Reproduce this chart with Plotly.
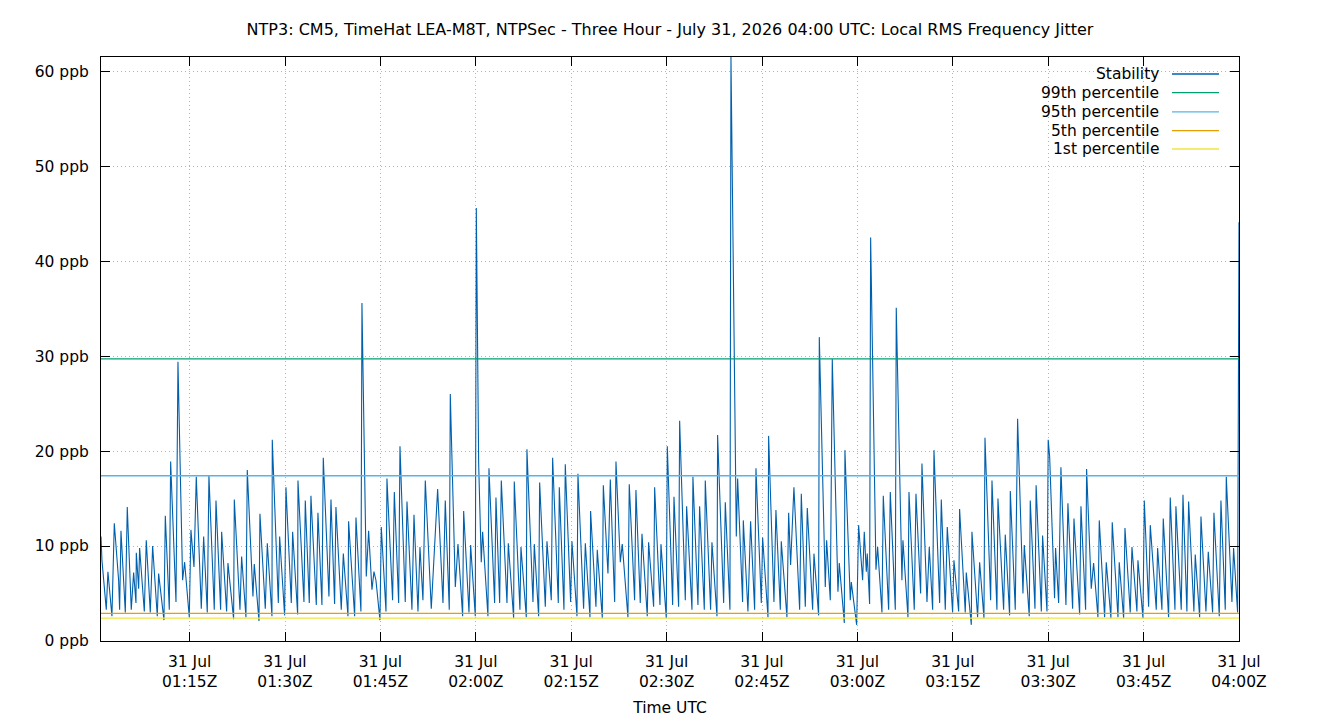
import pandas as pd
import plotly.graph_objects as go

# ---- data (minutes after 01:00 UTC, 31 Jul 2026) ----
t_min = [
    1.07, 1.22, 1.90, 2.16, 2.79, 3.16, 3.84, 4.00, 4.21, 4.89, 5.20, 5.83, 6.20, 6.57, 6.62, 6.99, 7.14, 7.88,
    8.19, 8.82, 9.19, 9.92, 10.13, 10.97, 11.18, 11.81, 12.02, 12.86, 13.17, 13.90, 14.22, 14.95, 15.21, 15.69,
    16.05, 16.84, 17.21, 17.78, 18.04, 18.88, 19.15, 19.88, 20.04, 20.82, 21.03, 21.92, 22.03, 22.92, 23.18,
    23.86, 24.07, 24.96, 25.17, 25.91, 26.06, 26.90, 27.22, 27.95, 28.00, 28.95, 29.16, 29.94, 30.15,
    30.99, 31.20, 31.99, 32.04, 32.98, 33.19, 33.82, 34.08, 34.92, 35.18, 35.81, 36.02, 36.91, 37.23, 37.80,
    38.01, 38.85, 39.17, 39.90, 40.00, 40.95, 41.16, 41.94, 42.10, 42.78, 43.15, 43.67, 43.99, 44.30, 44.93,
    45.14, 45.88, 46.03, 46.92, 47.19, 47.87, 48.08, 48.91, 49.18, 49.96, 50.28, 50.91, 51.22, 51.69, 52.06,
    53.00, 54.00, 54.84, 55.20, 55.83, 55.99, 56.78, 57.20, 57.93, 58.09, 58.93, 59.19, 59.92, 60.08,
    60.45, 60.86, 61.07, 61.91, 62.07, 62.96, 63.17, 63.75, 64.01, 64.90, 65.11, 65.95, 66.05, 66.94, 67.10,
    67.94, 68.04, 68.99, 69.20, 69.88, 70.04, 70.93, 71.19, 71.87, 72.08, 72.97, 73.13, 73.86, 74.07, 74.91,
    75.12, 75.91, 76.06, 76.95, 77.22, 77.95, 78.05, 78.89, 79.10, 79.89, 80.05, 80.78, 81.15, 81.83, 82.04,
    82.72, 83.03, 83.92, 84.13, 84.97, 85.18, 85.86, 86.13, 86.96, 87.17, 87.96, 88.12, 88.96, 89.11, 89.95,
    90.11, 90.95, 91.16, 91.89, 92.05, 92.94, 93.15, 93.99, 94.14, 94.93, 95.19, 95.93, 96.08, 96.92, 97.13,
    97.92, 98.02, 98.97, 99.23, 99.96, 100.12, 100.96, 101.17, 101.95, 102.06, 102.79, 103.21,
    103.84, 104.05, 104.89, 105.10, 105.94, 106.04, 106.88, 107.19, 107.88, 108.03, 108.92, 109.19, 109.50,
    110.02, 110.92, 111.18, 111.81, 112.12, 112.96, 113.17, 113.90, 114.01, 114.95, 115.16, 115.74, 116.05,
    116.94, 117.15, 117.94, 118.04, 118.88, 119.04, 119.88, 120.19, 120.82, 121.08, 121.40, 121.55, 121.92,
    122.08, 122.92, 123.18, 123.86, 124.07, 124.91, 125.17, 125.96, 126.11, 127.00, 127.16, 127.95, 128.11,
    128.94, 129.21, 129.94, 130.15, 130.94, 131.30, 131.83, 132.04, 132.93, 133.19, 133.82, 134.13, 134.97,
    135.18, 135.92, 136.07, 136.96, 137.12, 137.91, 138.01, 138.90, 139.22, 139.90, 140.06, 140.95, 141.16,
    141.94, 142.10, 142.99, 143.25, 143.93, 144.04, 144.82, 145.19, 145.61, 146.03, 146.24, 147.02, 147.18,
    147.92, 148.10, 148.92, 149.12, 149.81, 150.00, 150.23, 151.00, 151.16, 151.64, 152.00, 152.79, 153.10,
    153.84, 154.05, 154.94,
    155.15, 155.88, 156.04, 156.77, 157.14, 157.82, 158.03, 158.87, 159.13, 159.86, 160.07, 160.97, 161.17,
    161.86, 162.07, 162.90, 163.17, 163.95, 164.11, 164.90, 165.11, 165.79, 166.05, 166.99, 167.20, 167.88,
    168.09, 168.93, 169.19, 169.93, 170.08, 170.92, 171.19, 171.81, 172.08, 172.91, 173.12, 173.81, 174.02,
    174.80, 175.17, 175.85, 176.06, 176.90, 177.16, 177.84, 178.00, 178.89, 179.15, 179.78, 180.00,
]
jitter_ppb = [
    11.0, 8.5, 3.3, 7.3, 2.6, 12.4, 6.4, 3.3, 11.6, 3.0, 14.1, 3.3, 7.2, 4.0, 9.3, 5.5, 9.8, 3.1,
    10.6, 3.0, 10.0, 2.6, 7.1, 2.2, 13.2, 3.3, 18.9, 4.1, 29.4, 6.4, 8.3, 2.5, 11.7, 7.8,
    17.3, 3.4, 11.0, 3.0, 17.4, 3.3, 14.8, 3.3, 11.5, 3.1, 8.2, 2.3, 14.9, 3.3, 8.9,
    2.5, 18.0, 4.7, 8.1, 2.1, 13.4, 3.4, 10.3, 2.6, 21.2, 4.0, 11.0, 2.7, 16.2,
    4.0, 11.5, 2.8, 16.9, 4.1, 14.8, 4.0, 15.3, 3.8, 13.5, 3.8, 19.3, 4.7, 14.9, 3.9,
    14.1, 3.3, 9.2, 2.6, 12.6, 2.6, 13.0, 3.1, 35.6, 6.8, 11.6, 5.4, 7.3, 6.4, 2.2,
    12.0, 3.1, 17.1, 4.3, 15.7, 4.0, 20.5, 4.1, 14.7, 3.3, 13.3, 3.1, 9.9, 4.3, 16.9,
    3.4, 16.0, 4.0, 14.8, 3.3, 26.0, 5.7, 10.2, 2.6, 13.7, 3.0, 10.1, 2.6, 45.6,
    18.7, 8.3, 11.5, 2.6, 18.2, 4.0, 15.1, 4.0, 16.9, 4.0, 10.3, 2.4, 16.8, 3.3, 9.9,
    2.5, 20.2, 4.1, 10.2, 2.6, 16.7, 3.6, 10.5, 4.3, 19.3, 4.0, 16.2, 3.3, 18.6, 4.1,
    10.5, 2.6, 17.6, 3.4, 10.3, 2.5, 13.7, 3.6, 9.6, 2.4, 16.4, 7.1, 17.0, 4.1, 18.9,
    8.3, 10.2, 2.5, 16.5, 4.3, 15.9, 4.0, 11.3, 2.6, 10.4, 3.6, 16.2, 3.8, 10.2, 2.4,
    20.5, 3.8, 15.2, 3.6, 23.2, 4.3, 14.2, 3.3, 17.3, 3.8, 14.2, 3.3, 16.9, 3.3, 10.4,
    2.6, 21.7, 4.0, 14.6, 3.3, 61.5, 11.0, 17.1, 4.1, 12.7, 3.1, 12.6,
    3.3, 18.2, 4.0, 10.9, 2.5, 21.6, 4.1, 13.8, 3.3, 10.5, 2.5, 13.5, 8.0,
    16.2, 3.3, 15.5, 3.6, 14.0, 3.3, 9.2, 2.7, 32.0, 5.7, 10.6, 4.3, 29.7,
    5.2, 8.2, 1.9, 20.1, 4.3, 6.2, 1.7, 12.2, 6.4, 11.5, 7.3, 9.2, 3.9,
    42.5, 7.5, 9.9, 3.0, 15.3, 3.3, 15.7, 3.3, 35.1, 6.4, 10.6, 2.5, 15.7,
    3.3, 15.5, 5.0, 18.7, 4.1, 9.9, 3.3, 20.1, 4.0, 14.9, 3.3, 12.0, 3.0,
    8.5, 3.1, 13.9, 3.0, 7.2, 1.7, 11.5, 2.5, 8.3, 2.4, 21.4, 4.3, 16.9,
    3.3, 15.0, 3.3, 11.2, 2.7, 15.8, 3.3, 23.4, 13.1, 5.0, 10.1, 2.6, 14.8,
    3.4, 16.4, 3.1, 11.1, 3.1, 21.2, 19.4, 4.5, 9.8, 4.0, 18.3, 3.8, 14.5,
    3.4, 12.9, 2.8,
    14.2, 3.3, 18.1, 5.5, 8.2, 2.5, 12.7, 2.5, 8.3, 2.4, 12.5, 2.5, 8.3,
    2.4, 11.9, 3.0, 9.9, 3.1, 8.5, 2.4, 14.8, 3.6, 12.2, 3.3, 9.8, 3.3,
    12.9, 2.5, 15.1, 3.3, 14.2, 3.3, 15.4, 3.1, 14.7, 3.1, 9.1, 2.5, 13.1,
    3.1, 9.4, 3.0, 13.5, 2.6, 14.8, 3.3, 17.3, 4.1, 9.8, 3.0, 44.1,
]

pct_names = ["99th percentile", "95th percentile", "5th percentile", "1st percentile"]
pct_values = [29.7, 17.4, 2.9, 2.4]
pct_colors = ["#009e73", "#56b4e9", "#e69f00", "#f0e442"]
series_name = "Stability"
series_color = "#0060ad"

tick_minutes = [15, 30, 45, 60, 75, 90, 105, 120, 135, 150, 165, 180]
tick_text = ["31 Jul<br>01:15Z", "31 Jul<br>01:30Z", "31 Jul<br>01:45Z", "31 Jul<br>02:00Z",
             "31 Jul<br>02:15Z", "31 Jul<br>02:30Z", "31 Jul<br>02:45Z", "31 Jul<br>03:00Z",
             "31 Jul<br>03:15Z", "31 Jul<br>03:30Z", "31 Jul<br>03:45Z", "31 Jul<br>04:00Z"]
y_ticks = [0, 10, 20, 30, 40, 50, 60]
y_text = ["0 ppb", "10 ppb", "20 ppb", "30 ppb", "40 ppb", "50 ppb", "60 ppb"]

base = pd.Timestamp("2026-07-31 01:00:00")
times = base + pd.to_timedelta(t_min, unit="min")
x0, x1 = times[0], base + pd.Timedelta(minutes=180)

FONT = "DejaVu Sans"
FS = 15.5

fig = go.Figure()
fig.add_trace(go.Scatter(x=times, y=jitter_ppb, mode="lines", name=series_name,
                         line=dict(color=series_color, width=1.1)))
for n, v, c in zip(pct_names, pct_values, pct_colors):
    fig.add_trace(go.Scatter(x=[x0, x1], y=[v, v], mode="lines", name=n,
                             line=dict(color=c, width=1.3)))

# gnuplot-style legend (text right, sample line to the right)
legend_rows = [series_name] + pct_names
legend_cols = [series_color] + pct_colors
row_y = [0.9709, 0.9389, 0.9062, 0.8740, 0.8425]
for name, col, yy in zip(legend_rows, legend_cols, row_y):
    fig.add_annotation(x=0.9315, y=yy, xref="paper", yref="paper", text=name,
                       showarrow=False, xanchor="right", yanchor="middle",
                       font=dict(family=FONT, size=FS, color="#000000"))
    fig.add_shape(type="line", xref="paper", yref="paper", x0=0.9411, x1=0.9824,
                  y0=yy, y1=yy, line=dict(color=col, width=1.3))

axis_common = dict(showline=True, linecolor="#000000", linewidth=1, mirror="ticks",
                   ticks="inside", ticklen=9, tickcolor="#000000", tickwidth=1,
                   showgrid=True, gridcolor="#b4b4b4", griddash="1px,3px", gridwidth=1,
                   zeroline=False, automargin=False,
                   tickfont=dict(family=FONT, size=FS, color="#000000"))

fig.update_layout(
    width=1340, height=720,
    margin=dict(l=101, r=101, t=57, b=79),
    paper_bgcolor="#ffffff", plot_bgcolor="#ffffff",
    showlegend=False,
    title=dict(text="NTP3: CM5, TimeHat LEA-M8T, NTPSec - Three Hour - July 31, 2026 04:00 UTC: Local RMS Frequency Jitter",
               x=0.5, xanchor="center", y=1 - 29 / 720, yanchor="middle", yref="container",
               font=dict(family=FONT, size=16, color="#000000")),
    xaxis=dict(range=[x0, x1], tickvals=base + pd.to_timedelta(tick_minutes, unit="min"),
               ticktext=tick_text, ticklabelstandoff=6,
               title=dict(text="Time UTC", standoff=12, font=dict(family=FONT, size=FS, color="#000000")),
               **axis_common),
    yaxis=dict(range=[0, 61.5], tickvals=y_ticks, ticktext=y_text, ticklabelstandoff=8,
               **axis_common),
)

fig.write_html("out.html")
